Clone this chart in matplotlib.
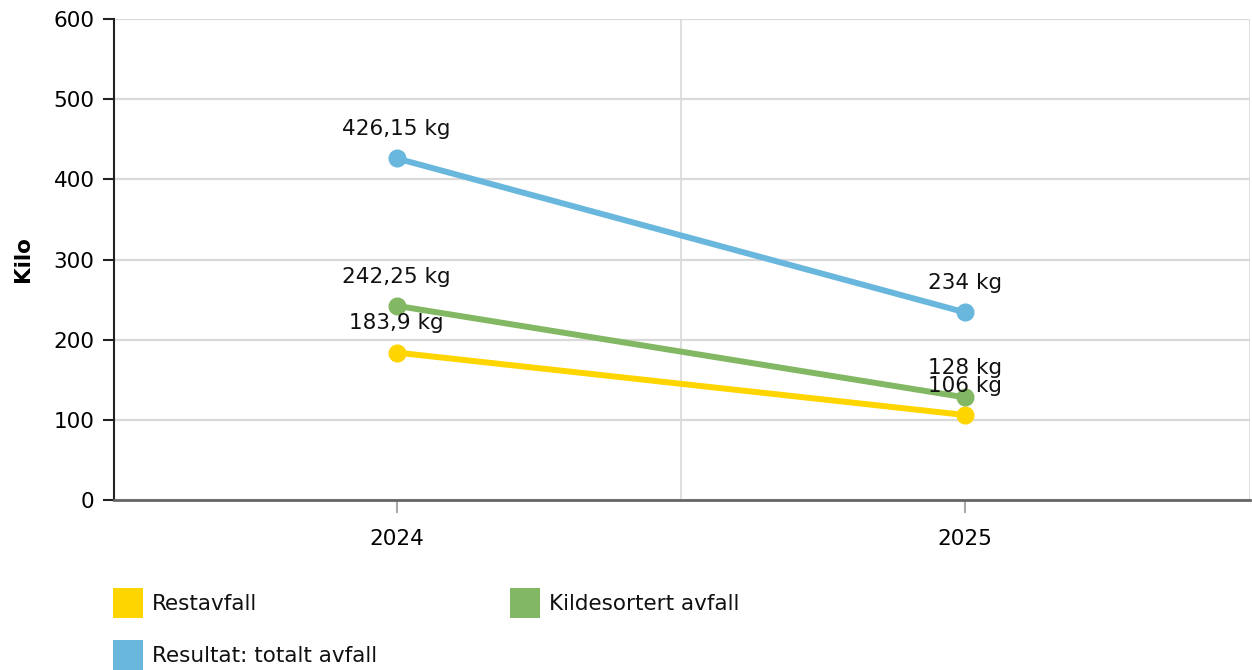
import matplotlib
matplotlib.use("Agg")
import matplotlib.pyplot as plt
from matplotlib.patches import Rectangle

categories = ["2024", "2025"]
series_names = ["Restavfall", "Kildesortert avfall", "Resultat: totalt avfall"]
restavfall = [183.9, 106]
kildesortert = [242.25, 128]
totalt = [426.15, 234]
colors = ["#FFD500", "#82B864", "#69B7DD"]
y_ticks = [0, 100, 200, 300, 400, 500, 600]

def fmt(v):
    s = ("%.2f" % v).rstrip("0").rstrip(".")
    return s.replace(".", ",") + " kg"

plt.rcParams['font.family'] = ['DejaVu Sans']
FS = 15.5
W, H = 1252, 670
fig = plt.figure(figsize=(W / 100, H / 100), dpi=100)
ax = fig.add_axes([114 / W, 170 / H, (1249.5 - 114) / W, (500 - 19) / H])

x = list(range(len(categories)))
for vals, c in zip([restavfall, kildesortert, totalt], colors):
    ax.plot(x, vals, color=c, lw=4.3, marker='o', ms=12, zorder=3,
            solid_capstyle='round', clip_on=False)
    for xi, v in zip(x, vals):
        ax.annotate(fmt(v), (xi, v), xytext=(0, 21), textcoords='offset points',
                    ha='center', va='center', fontsize=FS, color='#111111', zorder=5)

ax.set_xlim(-0.497, 1.5)
ax.set_ylim(0, 600)
ax.set_yticks(y_ticks)
ax.set_xticks(x)
ax.set_xticklabels(categories)
ax.set_xticks([0.5, 1.5], minor=True)
ax.grid(axis='y', color='#d9d9d9', lw=1.6, zorder=0)
ax.grid(axis='x', which='minor', color='#d9d9d9', lw=1.2, zorder=0)
ax.grid(axis='x', which='major', visible=False)
ax.tick_params(axis='x', which='minor', length=0)
ax.tick_params(axis='x', which='major', length=9, width=1.5, color='#aaaaaa',
               labelsize=FS, pad=12)
ax.tick_params(axis='y', length=8, width=1.5, color='#222222', labelsize=FS, pad=6)
ax.set_axisbelow(True)
for s in ['top', 'right']:
    ax.spines[s].set_visible(False)
ax.spines['left'].set_color('#222222')
ax.spines['left'].set_linewidth(1.5)
ax.spines['bottom'].set_color('#666666')
ax.spines['bottom'].set_linewidth(2)
ax.set_ylabel("Kilo", fontsize=FS, fontweight='bold', labelpad=15)

# Legend
leg_pos = [(113, 588), (510, 588), (113, 640)]
for (lx, ly), name, c in zip(leg_pos, series_names, colors):
    fig.add_artist(Rectangle((lx / W, 1 - (ly + 30) / H), 30 / W, 30 / H,
                             transform=fig.transFigure, color=c, lw=0))
    fig.text((lx + 39) / W, 1 - (ly + 16) / H, name, fontsize=FS,
             va='center', ha='left', color='#111111')

fig.savefig("out.png", dpi=100)
